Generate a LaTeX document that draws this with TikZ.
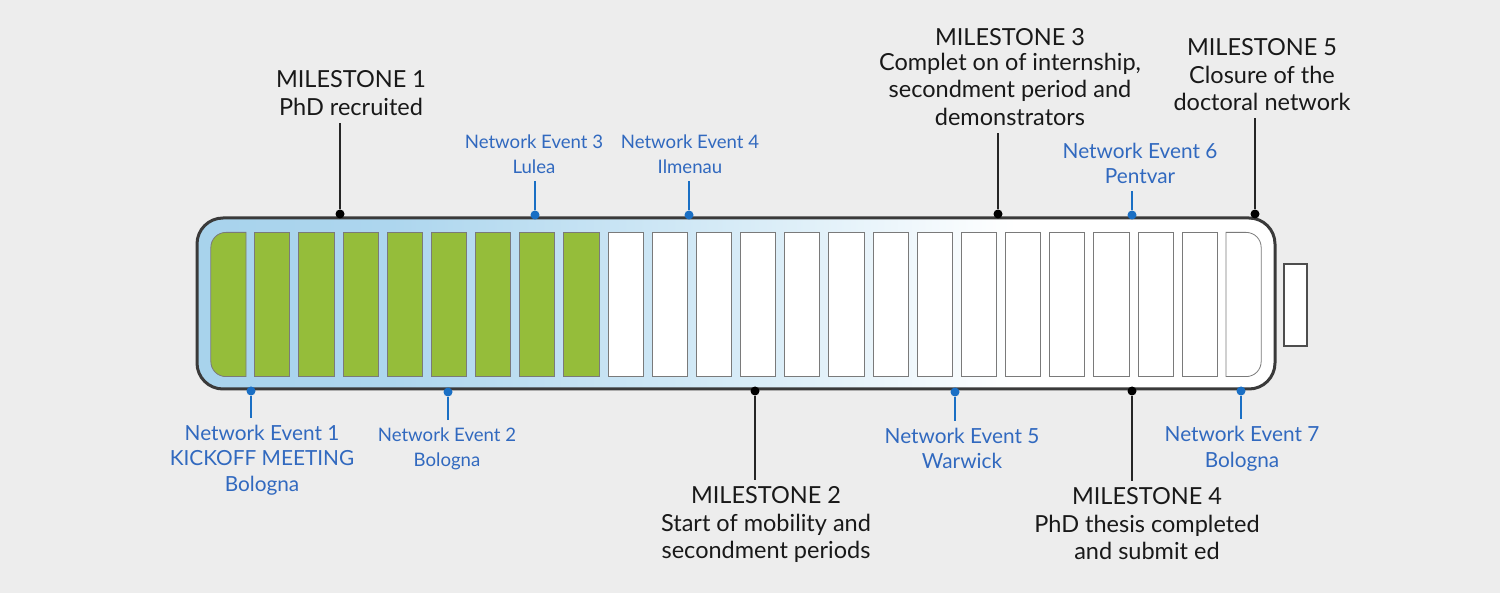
\documentclass[tikz,border=0pt]{standalone}
\usepackage{fontspec}
\setmainfont{Lato}
\usepackage{tikz}
\usetikzlibrary{matrix}

\definecolor{bggrey}{HTML}{EDEDED}
\definecolor{cellgreen}{HTML}{95BD3A}
\definecolor{cellline}{HTML}{7A7A7A}
\definecolor{evblue}{HTML}{3169BF}
\definecolor{dotblue}{HTML}{1A6FC4}
\definecolor{caseline}{HTML}{3A3A3A}
\definecolor{caseblueA}{HTML}{9ACAE8}
\definecolor{caseblueB}{HTML}{ADD6EE}
\definecolor{caseblueC}{HTML}{DCEEF8}
\pgfdeclarehorizontalshading{casefade}{100bp}{color(0bp)=(caseblueA); color(34bp)=(caseblueB); color(52bp)=(caseblueC); color(63bp)=(white); color(100bp)=(white)}

\begin{document}
\begin{tikzpicture}[x=1pt,y=-1pt,
	cell/.style={rectangle,draw=cellline,line width=0.8pt,minimum width=35.2,minimum height=144.2,inner sep=0,outer sep=0,fill=white},
	charged/.style={fill=cellgreen},
	endcell/.style={draw=none,fill=none},
	msdot/.style={circle,fill=black,inner sep=0,minimum size=9},
	evdot/.style={circle,fill=dotblue,inner sep=0,minimum size=9},
	mstext/.style={align=center,text=black!90,font=\fontsize{23.5}{27.5}\selectfont,inner sep=7},
	evtext/.style={align=center,text=evblue,font=\fontsize{20.8}{25.5}\selectfont,inner sep=7},
	evsmall/.style={evtext,font=\fontsize{18.6}{25}\selectfont},
	msline/.style={line width=1.4pt,black!85},
	evline/.style={line width=1.1pt,dotblue},
	]
	\path[use as bounding box,fill=bggrey] (0,0) rectangle (1500,593);

	\node[draw=caseline,line width=3pt,rounded corners=26,shade,shading=casefade,minimum width=1078,minimum height=171,inner sep=0] (case) at (736,303.5) {};
	\node[draw=caseline!90,line width=2.5pt,fill=white,minimum width=23,minimum height=82,inner sep=0] (tip) at (1295.5,305) {};

	\matrix [matrix of nodes,nodes in empty cells,column sep=8.17,nodes={cell},inner sep=0,outer sep=0] (cells) at (736,304.5)
	{
	|[endcell]| & |[charged]| & |[charged]| & |[charged]| & |[charged]| & |[charged]| & |[charged]| & |[charged]| & |[charged]| & & & & & & & & & & & & & & & |[endcell]| \\
	};
	\draw[draw=cellline,line width=0.8pt,fill=cellgreen] (cells-1-1.north east) [rounded corners=15] -- (cells-1-1.north west) -- (cells-1-1.south west) [sharp corners] -- (cells-1-1.south east) -- cycle;
	\draw[draw=cellline,line width=0.8pt,fill=white] (cells-1-24.north west) [rounded corners=15] -- (cells-1-24.north east) -- (cells-1-24.south east) [sharp corners] -- (cells-1-24.south west) -- cycle;

	% milestones
	\node[msdot] (m1dot) at (340,214) {};
	\node[msdot] (m2dot) at (755,391) {};
	\node[msdot] (m3dot) at (998,214) {};
	\node[msdot] (m4dot) at (1132,391) {};
	\node[msdot] (m5dot) at (1255,214) {};
	\node[mstext] (m1) at (351,93) {MILESTONE 1\\PhD recruited};
	\node[mstext] (m2) at (766,525) {MILESTONE 2\\Start of mobility and\\secondment periods};
	\node[mstext] (m3) at (1010,77) {MILESTONE 3\\[-3pt]Complet on of internship,\\secondment period and\\demonstrators};
	\node[mstext] (m4) at (1147,524) {MILESTONE 4\\PhD thesis completed\\and submit ed};
	\node[mstext] (m5) at (1262,75) {MILESTONE 5\\Closure of the\\doctoral network};
	\draw[msline] (m1dot) -- (m1dot |- m1.south);
	\draw[msline] (m2dot) -- (m2dot |- m2.north);
	\draw[msline] (m3dot) -- (m3dot |- m3.south);
	\draw[msline] (m4dot) -- (m4dot |- m4.north);
	\draw[msline] (m5dot) -- (m5dot |- m5.south);

	% network events
	\node[evdot] (e1dot) at (251,391) {};
	\node[evdot] (e2dot) at (448,392) {};
	\node[evdot] (e3dot) at (535,215) {};
	\node[evdot] (e4dot) at (689,215) {};
	\node[evdot] (e5dot) at (955,392) {};
	\node[evdot] (e6dot) at (1132,215) {};
	\node[evdot] (e7dot) at (1241,391) {};
	\node[evtext] (e1) at (262,460) {Network Event 1\\KICKOFF MEETING\\Bologna};
	\node[evsmall] (e2) at (447,448.5) {Network Event 2\\Bologna};
	\node[evsmall] (e3) at (534,154.5) {Network Event 3\\Lulea};
	\node[evsmall] (e4) at (690,154.5) {Network Event 4\\Ilmenau};
	\node[evtext] (e5) at (962,448.5) {Network Event 5\\Warwick};
	\node[evtext] (e6) at (1140,163.5) {Network Event 6\\Pentvar};
	\node[evtext] (e7) at (1242,448.5) {Network Event 7\\Bologna};
	\draw[evline] (e1dot) -- (e1dot |- e1.north);
	\draw[evline] (e2dot) -- (e2dot |- e2.north);
	\draw[evline] (e3dot) -- (e3dot |- e3.south);
	\draw[evline] (e4dot) -- (e4dot |- e4.south);
	\draw[evline] (e5dot) -- (e5dot |- e5.north);
	\draw[evline] (e6dot) -- (e6dot |- e6.south);
	\draw[evline] (e7dot) -- (e7dot |- e7.north);
\end{tikzpicture}
\end{document}
